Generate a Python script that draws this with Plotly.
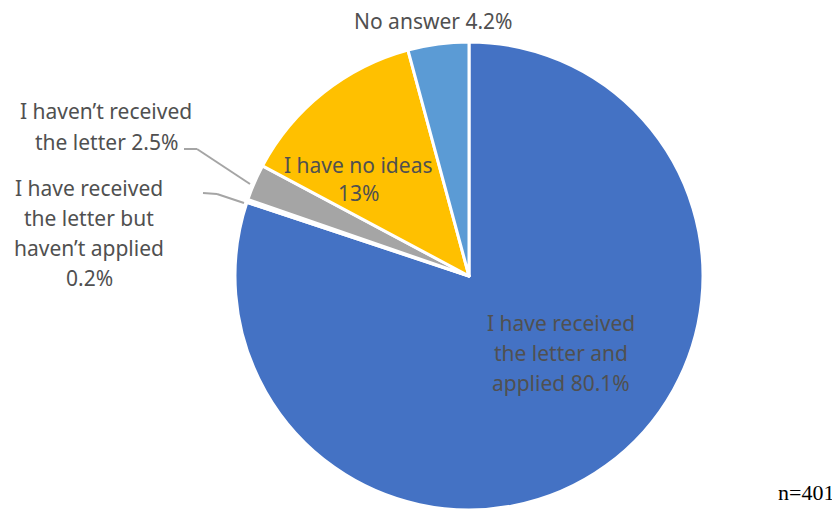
import plotly.graph_objects as go

# Data
categories = [
    "I have received the letter and applied",
    "I have received the letter but haven\u2019t applied",
    "I haven\u2019t received the letter",
    "I have no ideas",
    "No answer",
]
values = [80.1, 0.2, 2.5, 13, 4.2]
pct_labels = ["80.1%", "0.2%", "2.5%", "13%", "4.2%"]
colors = ["#4472C4", "#ED7D31", "#A5A5A5", "#FFC000", "#5B9BD5"]
sample_note = "n=401"

# page body has an 8px margin; compensate
OFF = 8
W, H = 840 - OFF, 511 - OFF
cx, cy, r = 469 - OFF, 276 - OFF, 234

def clamp(v):
    return max(0.0, min(1.0, v))

fig = go.Figure(go.Pie(
    labels=categories,
    values=values,
    sort=False,
    direction="clockwise",
    rotation=0,
    marker=dict(colors=colors, line=dict(color="white", width=3)),
    textinfo="none",
    hoverinfo="label+percent",
    domain=dict(x=[clamp((cx - r) / W), clamp((cx + r) / W)],
                y=[clamp(1 - (cy + r) / H), clamp(1 - (cy - r) / H)]),
    showlegend=False,
))

font = dict(family="Noto Sans, Open Sans, sans-serif", size=21, color="#505050")

def px(x, y):
    return (x - OFF) / W, 1 - (y - OFF) / H

# label lines per slice (wrapped as in the reference)
label_lines = [
    ["I have received", "the letter and", "applied " + pct_labels[0]],
    ["I have received", "the letter but", "haven\u2019t applied", pct_labels[1]],
    ["I haven\u2019t received", "the letter " + pct_labels[2]],
    ["I have no ideas", pct_labels[3]],
    ["No answer " + pct_labels[4]],
]
label_anchor = [(561, 323, 30), (89, 188, 30), (106, 111, 31), (358, 165, 28), (433, 21, 0)]

for lines, (x, y0, dy) in zip(label_lines, label_anchor):
    for i, t in enumerate(lines):
        ax, ay = px(x, y0 + i * dy)
        fig.add_annotation(x=ax, y=ay, xref="paper", yref="paper", text=t,
                           showarrow=False, font=font, align="center",
                           xanchor="center", yanchor="middle")

# leader lines
leaders = [
    [(184, 149), (197, 149), (250, 184)],
    [(203, 193), (217, 194), (244, 203)],
]
for pts in leaders:
    for (x0, y0), (x1, y1) in zip(pts[:-1], pts[1:]):
        X0, Y0 = px(x0, y0)
        X1, Y1 = px(x1, y1)
        fig.add_shape(type="line", xref="paper", yref="paper",
                      x0=X0, y0=Y0, x1=X1, y1=Y1,
                      line=dict(color="#A5A5A5", width=2))

nx, ny = px(806, 492)
fig.add_annotation(x=nx, y=ny, xref="paper", yref="paper", text=sample_note,
                   showarrow=False, xanchor="center", yanchor="middle",
                   font=dict(family="Liberation Serif, DejaVu Serif, serif", size=22, color="#000000"))

fig.update_layout(width=W, height=H, margin=dict(l=0, r=0, t=0, b=0),
                  paper_bgcolor="white", plot_bgcolor="white")

fig.write_html("out.html")
